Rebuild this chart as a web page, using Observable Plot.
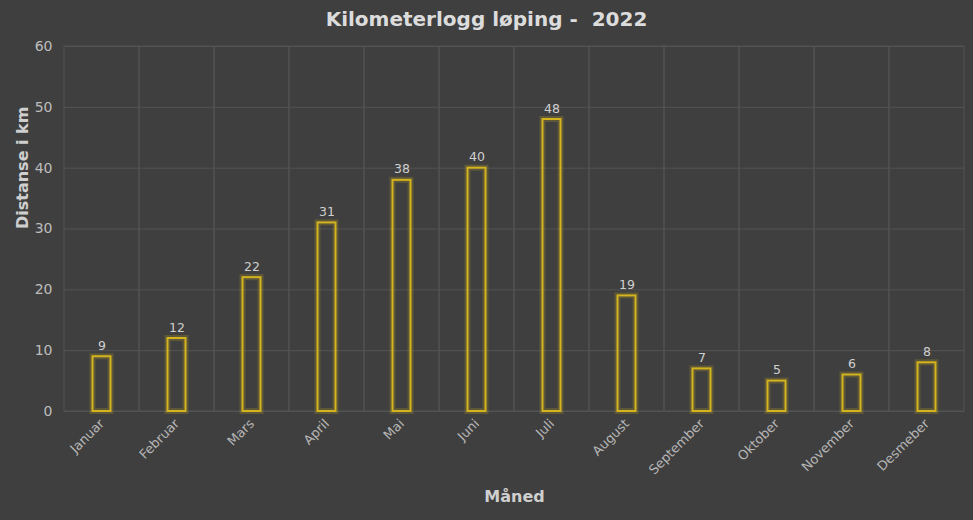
<!DOCTYPE html>
<html>
<head>
<meta charset="utf-8">
<script src="https://cdn.jsdelivr.net/npm/d3@7"></script>
<script src="https://cdn.jsdelivr.net/npm/@observablehq/plot@0.6"></script>
<style>
  html, body { margin: 0; padding: 0; background: #3f3f3f; }
  body { width: 973px; height: 520px; overflow: hidden; font-family: "DejaVu Sans", sans-serif; }
  #title { height: 36px; line-height: 38px; text-align: center; color: #dcdcdc; font-weight: bold; font-size: 20px; white-space: pre; }
</style>
</head>
<body>
<div id="title">Kilometerlogg løping -  2022</div>
<div id="chart"></div>
<script>
const months = ["Januar","Februar","Mars","April","Mai","Juni","Juli","August","September","Oktober","November","Desmeber"];
const km = [9, 12, 22, 31, 38, 40, 48, 19, 7, 5, 6, 8];
const yTicks = [0, 10, 20, 30, 40, 50, 60];
const xLabel = "Måned";
const yLabel = "Distanse i km";

const data = months.map((m, i) => ({month: m, km: km[i]}));
const cells = months.map(m => ({month: m, lo: 0, hi: 60}));

const plot = Plot.plot({
  width: 973,
  height: 484,
  marginTop: 10,
  marginBottom: 109,
  marginLeft: 64,
  marginRight: 9,
  style: {background: "#3f3f3f", color: "#bdbdbd", fontFamily: "DejaVu Sans, sans-serif", fontSize: "13px"},
  x: {type: "band", domain: months, padding: 0},
  y: {domain: [0, 60]},
  marks: [
    Plot.ruleY(yTicks, {stroke: "#545454", strokeWidth: 1}),
    Plot.barY(cells, {x: "month", y1: "lo", y2: "hi", fill: "none", stroke: "#525252", strokeWidth: 1}),
    Plot.axisY({ticks: yTicks, tickSize: 0, tickPadding: 12, label: null, fontSize: 14, fill: "#bdbdbd"}),
    Plot.axisX({tickSize: 0, tickRotate: -45, tickPadding: 10, label: null, fontSize: 13, fill: "#b5b5b5"}),
    Plot.barY(data, {x: "month", y: "km", fill: "none", stroke: "#e0c020", strokeWidth: 6, strokeOpacity: 0.2, insetLeft: 28.5, insetRight: 28.5}),
    Plot.barY(data, {x: "month", y: "km", fill: "none", stroke: "#d4b41e", strokeWidth: 2, insetLeft: 28.5, insetRight: 28.5}),
    Plot.text(data, {x: "month", y: "km", text: d => String(d.km), dy: -11, fill: "#cfcfcf", fontSize: 12.5}),
    Plot.text([xLabel], {frameAnchor: "bottom", dy: 90, fill: "#cfcfcf", fontSize: 16, fontWeight: "bold"}),
    Plot.text([yLabel], {frameAnchor: "left", rotate: -90, dx: -42, fill: "#cfcfcf", fontSize: 16, fontWeight: "bold"})
  ]
});
document.getElementById("chart").appendChild(plot);
</script>
</body>
</html>
